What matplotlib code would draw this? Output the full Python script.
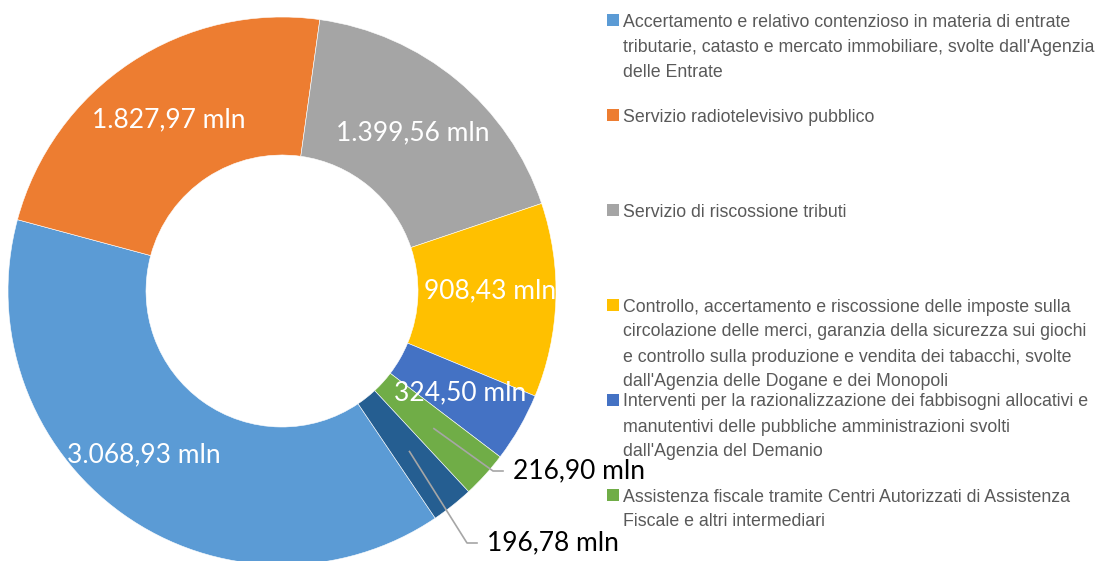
import numpy as np
import matplotlib.pyplot as plt
from matplotlib.patches import Rectangle

# slice values (mln), clockwise from the bottom
values = [3068.93, 1827.97, 1399.56, 908.43, 324.50, 216.90, 196.78]
colors = ['#5B9BD5', '#ED7D31', '#A5A5A5', '#FFC000', '#4472C4', '#70AD47', '#255E91']

legend_labels = [
    "Accertamento e relativo contenzioso in materia di entrate\n"
    "tributarie, catasto e mercato immobiliare, svolte dall'Agenzia\n"
    "delle Entrate",
    "Servizio radiotelevisivo pubblico",
    "Servizio di riscossione tributi",
    "Controllo, accertamento e riscossione delle imposte sulla\n"
    "circolazione delle merci, garanzia della sicurezza sui giochi\n"
    "e controllo sulla produzione e vendita dei tabacchi, svolte\n"
    "dall'Agenzia delle Dogane e dei Monopoli",
    "Interventi per la razionalizzazione dei fabbisogni allocativi e\n"
    "manutentivi delle pubbliche amministrazioni svolti\n"
    "dall'Agenzia del Demanio",
    "Assistenza fiscale tramite Centri Autorizzati di Assistenza\n"
    "Fiscale e altri intermediari",
]

W, H = 1105, 561


def fmt_it(v):
    # Italian number format: 1.827,97 mln
    s = f"{v:,.2f}".replace(",", "X").replace(".", ",").replace("X", ".")
    return s + " mln"


fig = plt.figure(figsize=(W / 100, H / 100), dpi=100)
ax = fig.add_axes([0, 0, 1, 1])

cx, cy, R, ring = 282, H - 291, 274, 138
wedges, _ = ax.pie(values, colors=colors, startangle=-56.0, counterclock=False,
                   radius=R, center=(cx, cy),
                   wedgeprops=dict(width=ring, edgecolor='white', linewidth=0.4))

label_font = dict(family=['Lato', 'DejaVu Sans'], fontsize=19)
r_mid = R - ring / 2

# labels inside the ring for the larger slices
nudges = {0: (-19, 3), 3: (3, 7)}
for i, w in enumerate(wedges[:5]):
    mid = np.deg2rad((w.theta1 + w.theta2) / 2)
    dx, dy = nudges.get(i, (0, 0))
    ax.text(cx + r_mid * np.cos(mid) + dx, cy + r_mid * np.sin(mid) + dy,
            fmt_it(values[i]), color='white', ha='center', va='center', **label_font)

# small slices: labels outside with leader lines
outside = {5: ((493, 471), 10), 6: ((467, 543), 10)}
for i, ((ex, ey), run) in outside.items():
    w = wedges[i]
    mid = np.deg2rad((w.theta1 + w.theta2) / 2)
    sx, sy = cx + r_mid * np.cos(mid), cy + r_mid * np.sin(mid)
    ey = H - ey
    ax.plot([sx, ex, ex + run], [sy, ey, ey], color='#A6A6A6', lw=1.2)
    ax.text(ex + run + 10, ey, fmt_it(values[i]), color='black',
            ha='left', va='center', **label_font)

# legend, drawn by hand (uneven spacing as in the original)
leg_first_y = [20, 115, 210, 305, 400, 495]
line_step = 25
for lab, col, y0 in zip(legend_labels, colors, leg_first_y):
    ax.add_patch(Rectangle((607, H - y0 - 6), 12, 12, color=col, lw=0))
    for j, line in enumerate(lab.split("\n")):
        ax.text(623, H - (y0 + j * line_step) - 6.5, line, color='#595959',
                ha='left', va='baseline',
                family=['Liberation Sans', 'DejaVu Sans'], fontsize=12.8)

ax.set_xlim(0, W)
ax.set_ylim(0, H)
ax.set_aspect('equal')
ax.axis('off')

fig.savefig('out.png', dpi=100)
